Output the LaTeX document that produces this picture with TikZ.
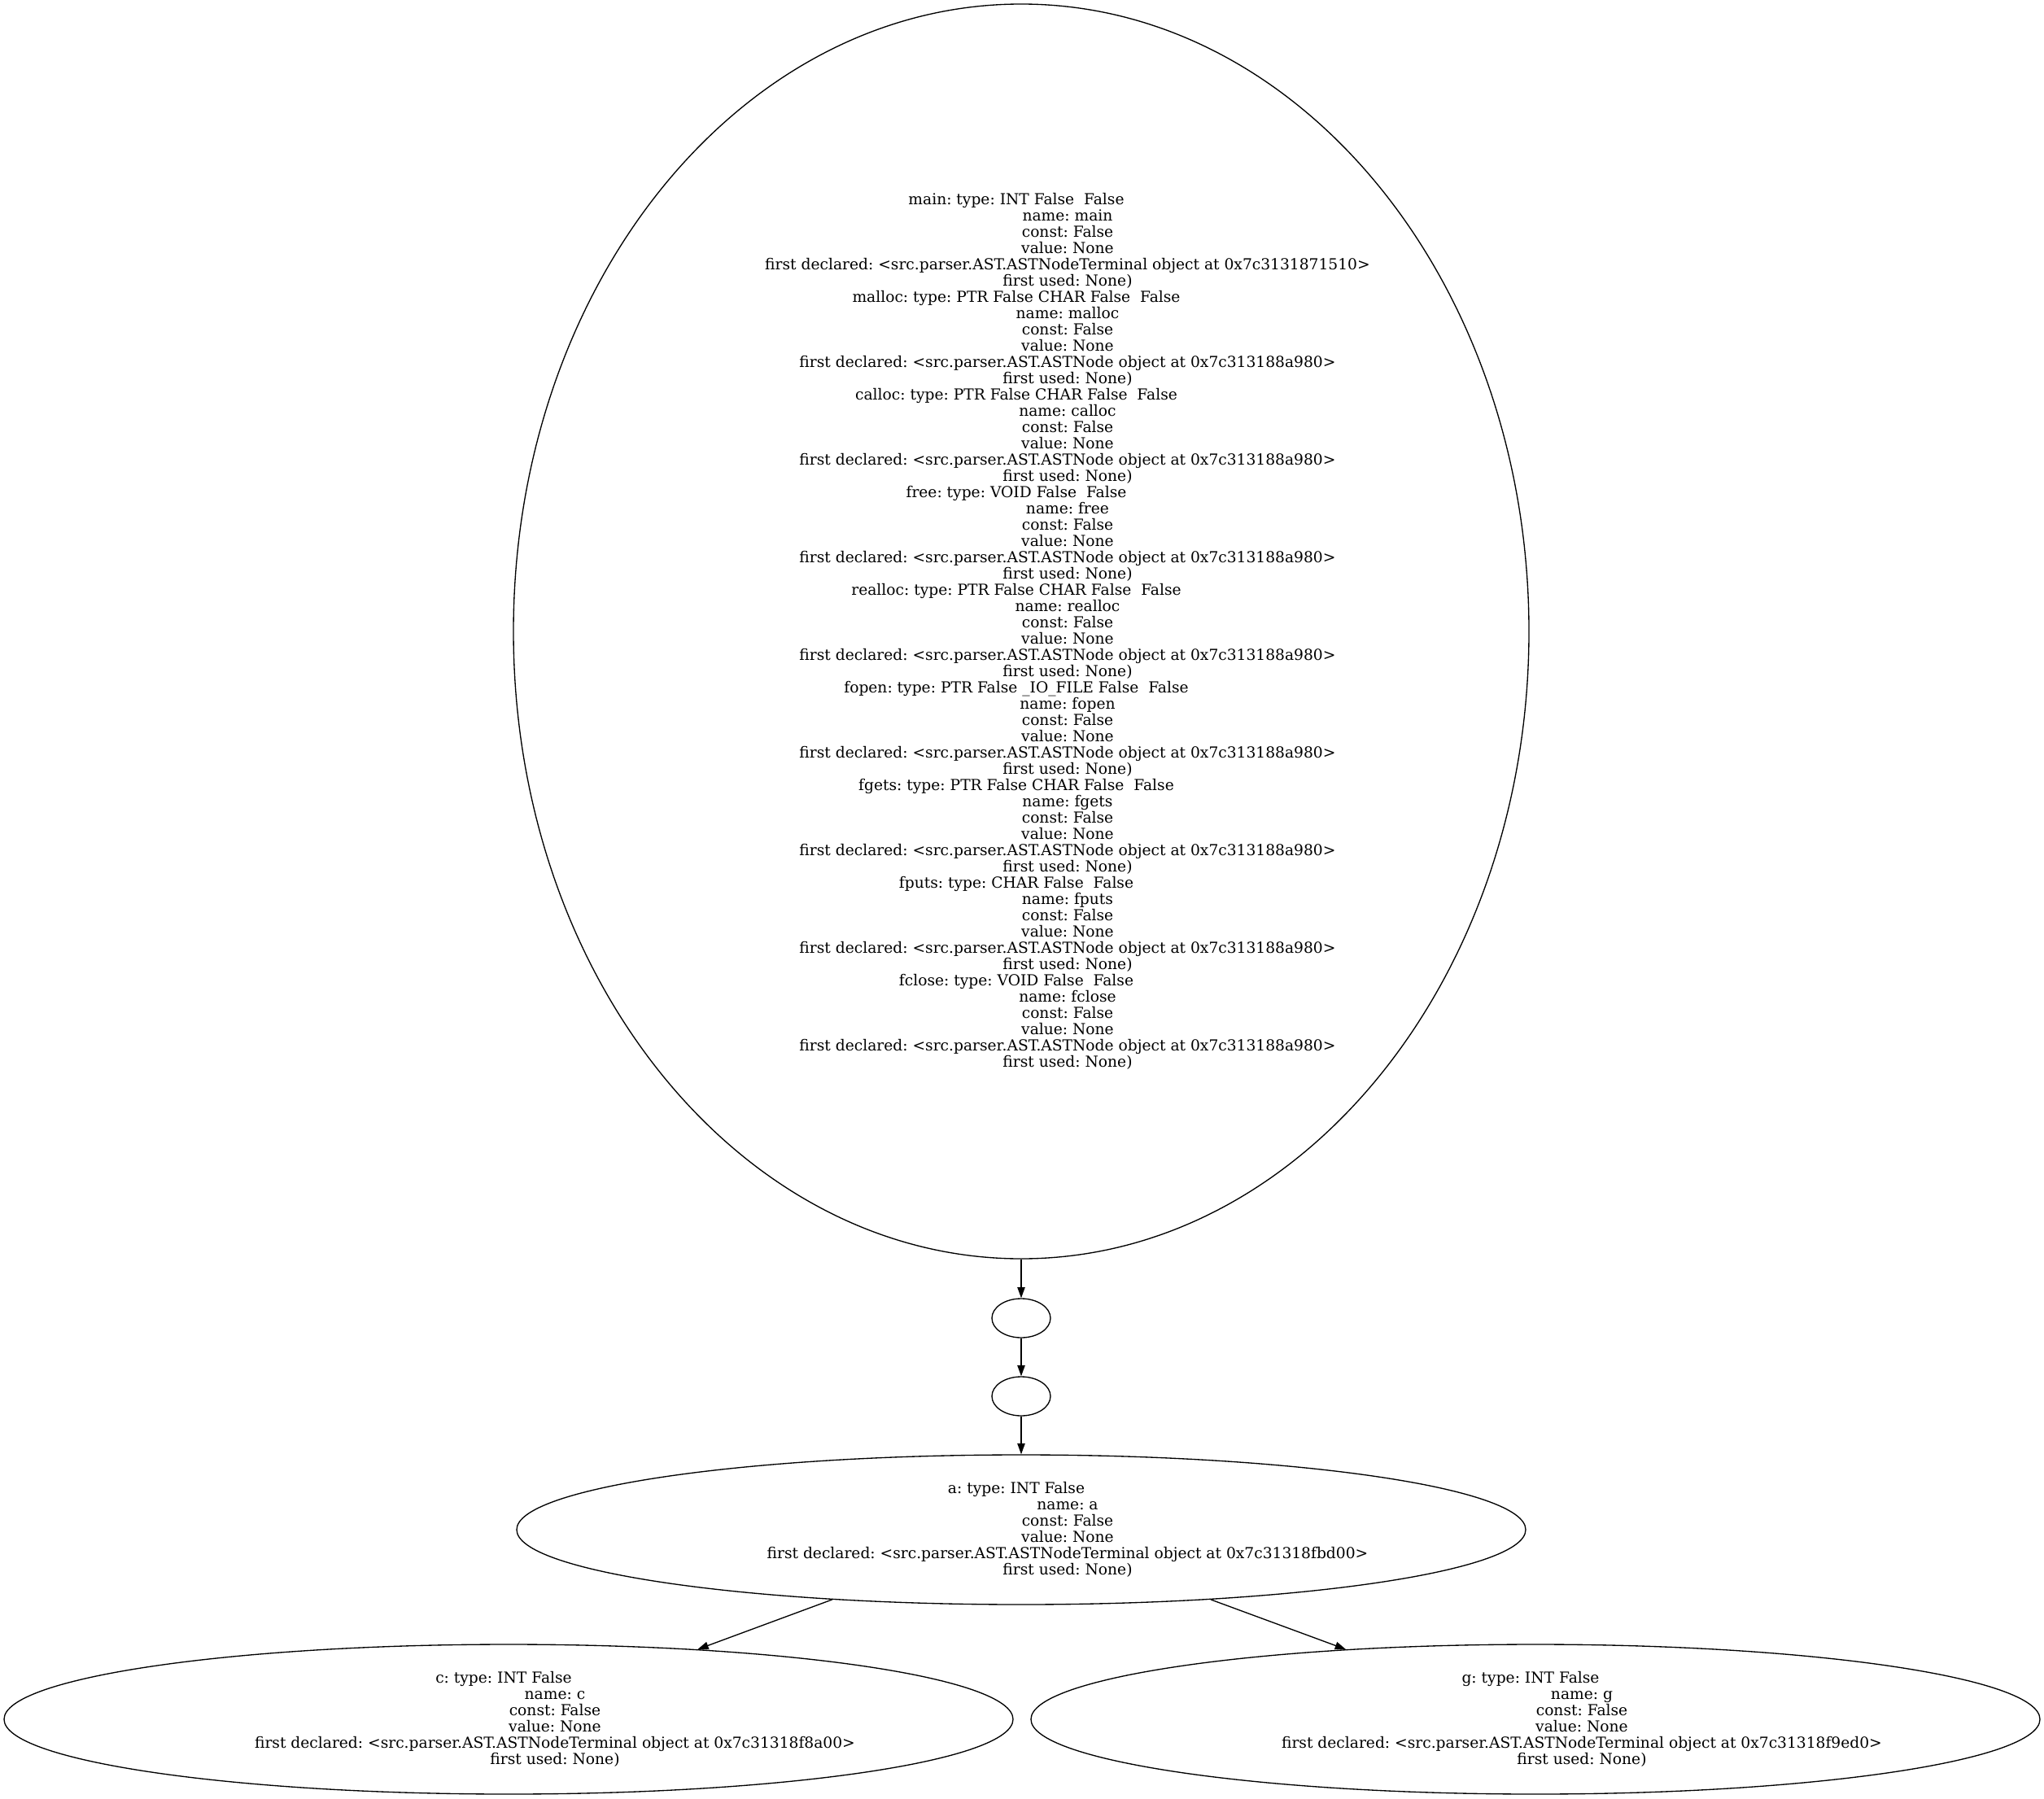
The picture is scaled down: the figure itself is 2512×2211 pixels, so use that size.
\documentclass[tikz,border=0pt]{standalone}
\usepackage{fontspec}
\newfontfamily\gvfont{DejaVu Serif}
\usepackage{tikz}
\usetikzlibrary{shapes.geometric, arrows.meta, positioning}
\frenchspacing

% one symbol of a table: header line, then the indented fields
\newcommand{\symhead}[1]{\mbox{#1\kern9pt}}
\newcommand{\symline}[1]{\mbox{\kern85.5pt#1}}
\newcommand{\symentry}[4]{\symhead{#1}\\\symline{name: #2}\\\symline{const: False}\\\symline{value: None}\\\symline{first declared: <src.parser.AST.#3 object at #4>}\\\symline{first used: None)}}

\begin{document}
\begin{tikzpicture}[
    x=0.75pt, y=-0.75pt,
    every node/.style={font={\gvfont\fontsize{14}{15}\selectfont\frenchspacing}},
    % Table styles
    symtab/.style={ellipse, draw=black, line width=1pt, inner sep=0pt, align=center, minimum width=930pt, minimum height=138pt},
    scopenode/.style={ellipse, draw=black, line width=1pt, inner sep=0pt, minimum width=54pt, minimum height=36pt},
    % Arrow styles
    scopeflow/.style={-{Triangle[length=10pt, width=7pt]}, line width=1pt}
]
\useasboundingbox (0, 0) rectangle (2512, 2211);

% Global table
\node[symtab, minimum width=936pt, minimum height=1156.5pt] (globals) at (1255, 776) {%
    \symentry{main: type: INT False\ \ False}{main}{ASTNodeTerminal}{0x7c3131871510}\\
    \symentry{malloc: type: PTR False CHAR False\ \ False}{malloc}{ASTNode}{0x7c313188a980}\\
    \symentry{calloc: type: PTR False CHAR False\ \ False}{calloc}{ASTNode}{0x7c313188a980}\\
    \symentry{free: type: VOID False\ \ False}{free}{ASTNode}{0x7c313188a980}\\
    \symentry{realloc: type: PTR False CHAR False\ \ False}{realloc}{ASTNode}{0x7c313188a980}\\
    \symentry{fopen: type: PTR False \_IO\_FILE False\ \ False}{fopen}{ASTNode}{0x7c313188a980}\\
    \symentry{fgets: type: PTR False CHAR False\ \ False}{fgets}{ASTNode}{0x7c313188a980}\\
    \symentry{fputs: type: CHAR False\ \ False}{fputs}{ASTNode}{0x7c313188a980}\\
    \symentry{fclose: type: VOID False\ \ False}{fclose}{ASTNode}{0x7c313188a980}};

% Empty scopes
\node[scopenode] (scopeone) at (1255, 1620) {};
\node[scopenode] (scopetwo) at (1255, 1716) {};

% Local tables
\node[symtab] (vara) at (1255, 1880) {\symentry{a: type: INT False}{a}{ASTNodeTerminal}{0x7c31318fbd00}};
\node[symtab] (varc) at (625, 2113) {\symentry{c: type: INT False}{c}{ASTNodeTerminal}{0x7c31318f8a00}};
\node[symtab] (varg) at (1887, 2113) {\symentry{g: type: INT False}{g}{ASTNodeTerminal}{0x7c31318f9ed0}};

% Scope links
\draw[scopeflow] (globals) -- (scopeone);
\draw[scopeflow] (scopeone) -- (scopetwo);
\draw[scopeflow] (scopetwo) -- (vara);
\draw[scopeflow] (vara) -- (varc);
\draw[scopeflow] (vara) -- (varg);

\end{tikzpicture}
\end{document}
